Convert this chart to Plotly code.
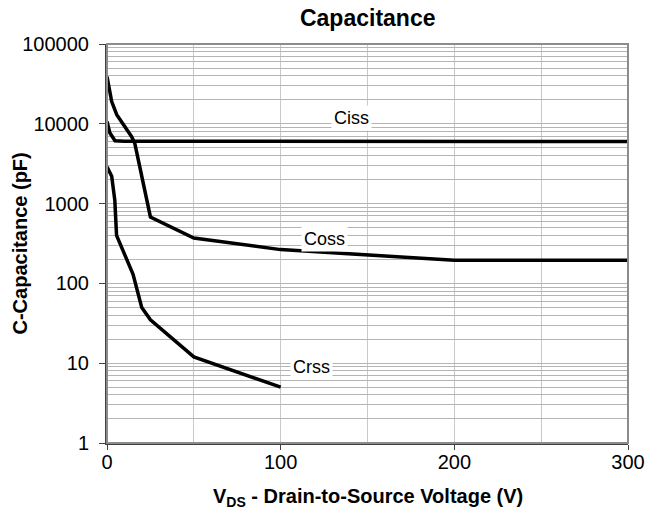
import math
import plotly.graph_objects as go

# Data
ciss_v = [0, 1.7, 4.6, 10, 300]
ciss = [10700, 7650, 6130, 6050, 6000]

coss_v = [0, 2.7, 5.6, 10.4, 14.2, 16, 25, 50, 100, 200, 300]
coss = [39000, 19000, 13000, 9250, 6900, 5700, 680, 370, 265, 195, 195]

crss_v = [0, 2.7, 4.5, 5.5, 15, 20, 25, 50, 100]
crss = [2900, 2200, 1100, 400, 130, 50, 35, 12, 5]

labels = ["Ciss", "Coss", "Crss"]
label_x = [141, 125, 118]
label_y = [11900, 355, 8.9]

x_ticks = [0, 100, 200, 300]
y_ticks = [1, 10, 100, 1000, 10000, 100000]

FONT = "Liberation Sans, Arial, sans-serif"
L, R, T, B, W, H = 107, 20, 44, 75, 648, 518
PW, PH = W - L - R, H - T - B

fig = go.Figure()
for vx, vy in [(ciss_v, ciss), (coss_v, coss), (crss_v, crss)]:
    fig.add_trace(go.Scatter(x=vx, y=vy, mode="lines",
                             line=dict(color="black", width=3.5),
                             showlegend=False, hoverinfo="skip"))

for t, lx, ly in zip(labels, label_x, label_y):
    fig.add_annotation(x=lx, y=math.log10(ly), text=t, showarrow=False,
                       bgcolor="white", font=dict(family=FONT, size=18, color="black"),
                       xref="x", yref="y", borderpad=2)

# axis titles
fig.add_annotation(x=(19 - L) / PW, y=0.5, xref="paper", yref="paper",
                   text="<b>C-Capacitance (pF)</b>", textangle=-90, showarrow=False,
                   xanchor="center", yanchor="middle",
                   font=dict(family=FONT, size=20, color="black"))
fig.add_annotation(x=0.5, y=-(497 - (H - B)) / PH, xref="paper", yref="paper",
                   text="<b>V<sub>DS</sub> - Drain-to-Source Voltage (V)</b>", showarrow=False,
                   xanchor="center", yanchor="middle",
                   font=dict(family=FONT, size=20, color="black"))

fig.add_shape(type="rect", xref="paper", yref="paper", x0=0, y0=0, x1=1, y1=1,
              line=dict(color="#8c8c8c", width=2), layer="above")

fig.update_layout(
    width=W, height=H,
    margin=dict(l=L, r=R, t=T, b=B, autoexpand=False),
    paper_bgcolor="white", plot_bgcolor="white",
    font=dict(family=FONT, size=20, color="black"),
    title=dict(text="<b>Capacitance</b>", x=0.5675, xanchor="center",
               y=1 - 18 / H, yanchor="middle", xref="container",
               font=dict(family=FONT, size=23, color="black")),
    xaxis=dict(range=[0, 300], tickvals=x_ticks, ticktext=[str(v) for v in x_ticks],
               showgrid=False, automargin=False,
               minor=dict(dtick=50, showgrid=True, gridcolor="#c8c8c8", gridwidth=1),
               showline=True, linecolor="#404040", linewidth=2,
               ticks="outside", ticklen=5, tickcolor="#404040", tickwidth=1,
               tickfont=dict(family=FONT, size=20), ticklabelstandoff=-5,
               zeroline=False),
    yaxis=dict(type="log", range=[0, 5], tickvals=y_ticks,
               ticktext=[str(v) for v in y_ticks], automargin=False,
               showgrid=True, gridcolor="#b4b4b4", gridwidth=1,
               minor=dict(dtick="D1", showgrid=True, gridcolor="#b4b4b4", gridwidth=1, ticks=""),
               showline=True, linecolor="#404040", linewidth=2,
               ticks="outside", ticklen=6, tickcolor="#404040", tickwidth=1,
               tickfont=dict(family=FONT, size=20), ticklabelstandoff=6,
               zeroline=False),
)

fig.write_html("out.html", config={"displayModeBar": False},
               post_script="document.body.style.margin='0';")
